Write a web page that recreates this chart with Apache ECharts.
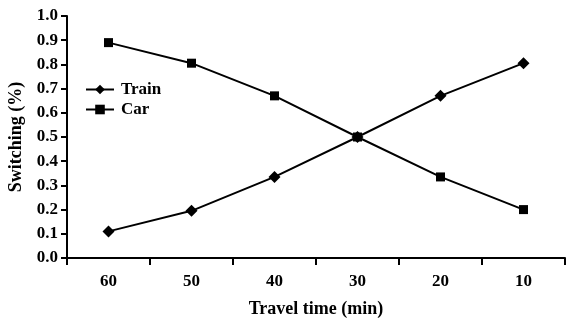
<!DOCTYPE html>
<html><head><meta charset="utf-8">
<script src="https://cdn.jsdelivr.net/npm/echarts@6/dist/echarts.min.js"></script>
<style>html,body{margin:0;padding:0;background:#fff}#c{width:566px;height:322px}</style>
</head><body><div id="c"></div>
<script>
const categories = ['60', '50', '40', '30', '20', '10'];
const trainValues = [0.11, 0.195, 0.335, 0.50, 0.67, 0.805];
const carValues = [0.89, 0.805, 0.67, 0.50, 0.335, 0.20];
const yTicks = [0, 0.1, 0.2, 0.3, 0.4, 0.5, 0.6, 0.7, 0.8, 0.9, 1.0];

const font = 'Liberation Serif';
const chart = echarts.init(document.getElementById('c'), null, {renderer: 'canvas'});
chart.setOption({
  animation: false,
  backgroundColor: '#fff',
  grid: {left: 67, right: 1, top: 16, bottom: 64, containLabel: false, outerBoundsMode: 'none'},
  legend: {
    left: 80, top: 76, orient: 'vertical', itemGap: 3, itemWidth: 28, itemHeight: 12,
    textStyle: {fontFamily: font, fontSize: 17, fontWeight: 'bold', color: '#000', padding: [0,0,0,2]},
    data: ['Train', 'Car']
  },
  xAxis: {
    type: 'category', data: categories, boundaryGap: true,
    name: 'Travel time (min)', nameLocation: 'middle', nameGap: 42,
    nameTextStyle: {fontFamily: font, fontSize: 18, fontWeight: 'bold', color: '#000'},
    axisLine: {lineStyle: {color: '#000', width: 2}},
    axisTick: {show: true, length: 7, lineStyle: {color: '#000', width: 2}},
    axisLabel: {fontFamily: font, fontSize: 17, fontWeight: 'bold', color: '#000', margin: 15}
  },
  yAxis: {
    type: 'value', min: 0, max: 1, interval: 0.1,
    name: 'Switching (%)', nameLocation: 'middle', nameGap: 42,
    nameTextStyle: {fontFamily: font, fontSize: 18, fontWeight: 'bold', color: '#000'},
    axisLine: {show: true, lineStyle: {color: '#000', width: 2}},
    axisTick: {show: true, length: 6, lineStyle: {color: '#000', width: 2}},
    splitLine: {show: false},
    axisLabel: {fontFamily: font, fontSize: 17, fontWeight: 'bold', color: '#000', margin: 9,
      formatter: v => yTicks.includes(Math.round(v*10)/10) ? v.toFixed(1) : ''}
  },
  series: [
    {name: 'Train', type: 'line', data: trainValues, symbol: 'diamond', symbolSize: 12,
     itemStyle: {color: '#000'}, lineStyle: {color: '#000', width: 2}},
    {name: 'Car', type: 'line', data: carValues, symbol: 'rect', symbolSize: 9,
     itemStyle: {color: '#000'}, lineStyle: {color: '#000', width: 2}}
  ]
});
</script></body></html>
